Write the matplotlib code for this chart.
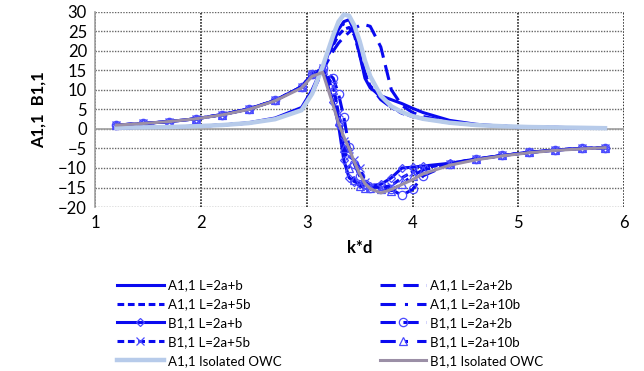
import matplotlib
matplotlib.use("Agg")
import matplotlib.pyplot as plt

plt.rcParams['font.family'] = ['Lato', 'DejaVu Sans']

kd = [1.2, 1.45, 1.7, 1.95, 2.2, 2.45, 2.7, 2.95, 3.05, 3.15, 3.25, 3.3, 3.35, 3.4, 3.45,
      3.5, 3.55, 3.6, 3.7, 3.8, 3.9, 4.0, 4.1, 4.35, 4.6, 4.85, 5.1, 5.35, 5.6, 5.82]

# A1,1 curves
a_b = [0.3, 0.4, 0.5, 0.7, 1.0, 1.6, 2.8, 5.5, 10, 16, 22, 25.5, 27.5, 28, 25,
       19, 13, 10.5, 8.5, 7.5, 6.5, 5.3, 4.2, 2.2, 1.2, 0.7, 0.5, 0.4, 0.3, 0.2]
a_2b = [0.3, 0.4, 0.5, 0.7, 1.0, 1.5, 2.6, 5, 9, 15, 20, 22, 23.5, 24.8, 25.8,
        26.5, 26.7, 26.3, 21, 10, 6, 4.2, 3.2, 1.8, 1.1, 0.7, 0.5, 0.4, 0.3, 0.2]
a_5b = [0.3, 0.4, 0.5, 0.7, 1.0, 1.5, 2.6, 5, 9.5, 16, 21.5, 24, 25.5, 26, 24,
        19, 14, 11, 8, 5.5, 4, 3.2, 2.6, 1.6, 1.0, 0.7, 0.5, 0.4, 0.3, 0.2]
a_10b = [0.3, 0.4, 0.5, 0.7, 1.0, 1.5, 2.6, 5, 9.5, 16, 22.5, 25.5, 27, 27, 24.5,
         19.5, 14.5, 11, 7.5, 5.5, 4.2, 3.3, 2.7, 1.7, 1.0, 0.7, 0.5, 0.4, 0.3, 0.2]
a_iso = [0.3, 0.4, 0.5, 0.7, 1.0, 1.5, 2.5, 4.8, 9, 16, 24, 27.5, 29.3, 29, 26.5,
         22.5, 17.5, 13.5, 8.5, 5.8, 4.3, 3.3, 2.6, 1.6, 1.0, 0.7, 0.5, 0.4, 0.3, 0.2]

# B1,1 curves
b_b = [1.0, 1.4, 1.9, 2.6, 3.7, 5.1, 7.3, 10.8, 14, 15, 7, 1, -8, -12.5, -13.5,
       -14, -14.3, -14.5, -14.2, -12.5, -10, -9.8, -9.5, -8.8, -7.7, -6.8, -6, -5.4, -5, -4.8]
b_2b = [1.0, 1.4, 1.9, 2.6, 3.7, 5.1, 7.3, 10.8, 14, 15.5, 13, 9, 3, -4.6, -9,
        -12, -14, -15, -14.5, -15.5, -17, -15.5, -12, -9, -7.8, -6.8, -6, -5.4, -5, -4.8]
b_5b = [1.0, 1.4, 1.9, 2.6, 3.7, 5.1, 7.3, 10.8, 14, 15.5, 11, 4, -3, -7, -8,
        -10, -13.5, -14.8, -15, -14.5, -12.5, -11, -10, -8.9, -7.7, -6.8, -6, -5.4, -5, -4.8]
b_10b = [1.0, 1.4, 1.9, 2.6, 3.7, 5.1, 7.3, 10.8, 14, 15, 10, 2, -5, -10, -13,
         -14.5, -15, -15.2, -15.5, -15.8, -14, -12, -10.5, -9, -7.7, -6.8, -6, -5.4, -5, -4.8]
b_iso = [1.0, 1.4, 1.9, 2.6, 3.6, 5.0, 7.2, 10.5, 13.5, 14.5, 6, 1.5, -2, -5, -8.5,
         -11.5, -14, -15.3, -16.4, -15.5, -14.2, -13, -11.5, -9.3, -7.9, -6.9, -6.1, -5.5, -5.1, -4.8]

blue = '#0a0af0'
light = '#b7cbea'
grey = '#9b8fa6'

fig, ax = plt.subplots(figsize=(6.44, 3.71), dpi=100)
fig.subplots_adjust(left=0.148, right=0.969, top=0.968, bottom=0.442)

lw = 2.2
s_long = (0, (5, 2.5))
s_short = (0, (2.2, 1.2))
s_dashdot = (0, (5, 3, 1, 3))

h = {}
h['a_b'], = ax.plot(kd, a_b, color=blue, lw=lw, label='A1,1 L=2a+b')
h['a_2b'], = ax.plot(kd, a_2b, color=blue, lw=lw, ls=s_long, label='A1,1 L=2a+2b')
h['a_5b'], = ax.plot(kd, a_5b, color=blue, lw=lw, ls=s_short, label='A1,1 L=2a+5b')
h['a_10b'], = ax.plot(kd, a_10b, color=blue, lw=lw, ls=s_dashdot, label='A1,1 L=2a+10b')

mk = dict(markersize=6, markerfacecolor='none', markeredgecolor='#4a4aff', markeredgewidth=0.9)
h['b_b'], = ax.plot(kd, b_b, color=blue, lw=lw, marker='D', label='B1,1 L=2a+b',
                    **dict(mk, markersize=4.5))
h['b_2b'], = ax.plot(kd, b_2b, color=blue, lw=lw, ls=s_long, marker='o', label='B1,1 L=2a+2b', **mk)
h['b_5b'], = ax.plot(kd, b_5b, color=blue, lw=lw, ls=s_short, marker='x', label='B1,1 L=2a+5b', **mk)
h['b_10b'], = ax.plot(kd, b_10b, color=blue, lw=lw, ls=s_dashdot, marker='^', label='B1,1 L=2a+10b', **mk)

h['a_iso'], = ax.plot(kd, a_iso, color=light, lw=3.2, label='A1,1 Isolated OWC')
h['b_iso'], = ax.plot(kd, b_iso, color=grey, lw=2.2, label='B1,1 Isolated OWC')

ax.set_xlim(1, 6)
ax.set_ylim(-20, 30)
ax.set_xticks([1, 2, 3, 4, 5, 6])
ax.set_yticks(range(-20, 31, 5))
ax.tick_params(length=0, labelsize=12, pad=6)
ax.xaxis.grid(True, color='black', ls=(0, (1, 1)), lw=1.1)
ax.yaxis.grid(True, color='#666666', ls=(0, (1, 1)), lw=1.0)
ax.set_axisbelow(True)
ax.axhline(0, color='#a0a0a0', lw=1.2, zorder=1)
for side in ['top', 'right', 'bottom']:
    ax.spines[side].set_visible(False)
ax.spines['left'].set_color('#a0a0a0')
ax.spines['left'].set_linewidth(1.2)

ax.set_xlabel('k*d', fontsize=12, fontweight='bold', labelpad=6)
ax.set_ylabel('A1,1  B1,1', fontsize=12, fontweight='bold', labelpad=8)

order = ['a_b', 'a_5b', 'b_b', 'b_5b', 'a_iso', 'a_2b', 'a_10b', 'b_2b', 'b_10b', 'b_iso']
fig.legend([h[k] for k in order], [h[k].get_label() for k in order],
           loc='upper left', bbox_to_anchor=(0.172, 0.265), ncol=2, frameon=False,
           fontsize=9.5, handlelength=3.5, handletextpad=0.3, columnspacing=7.5,
           labelspacing=0.52, borderpad=0)

fig.savefig('out.png', dpi=100)
